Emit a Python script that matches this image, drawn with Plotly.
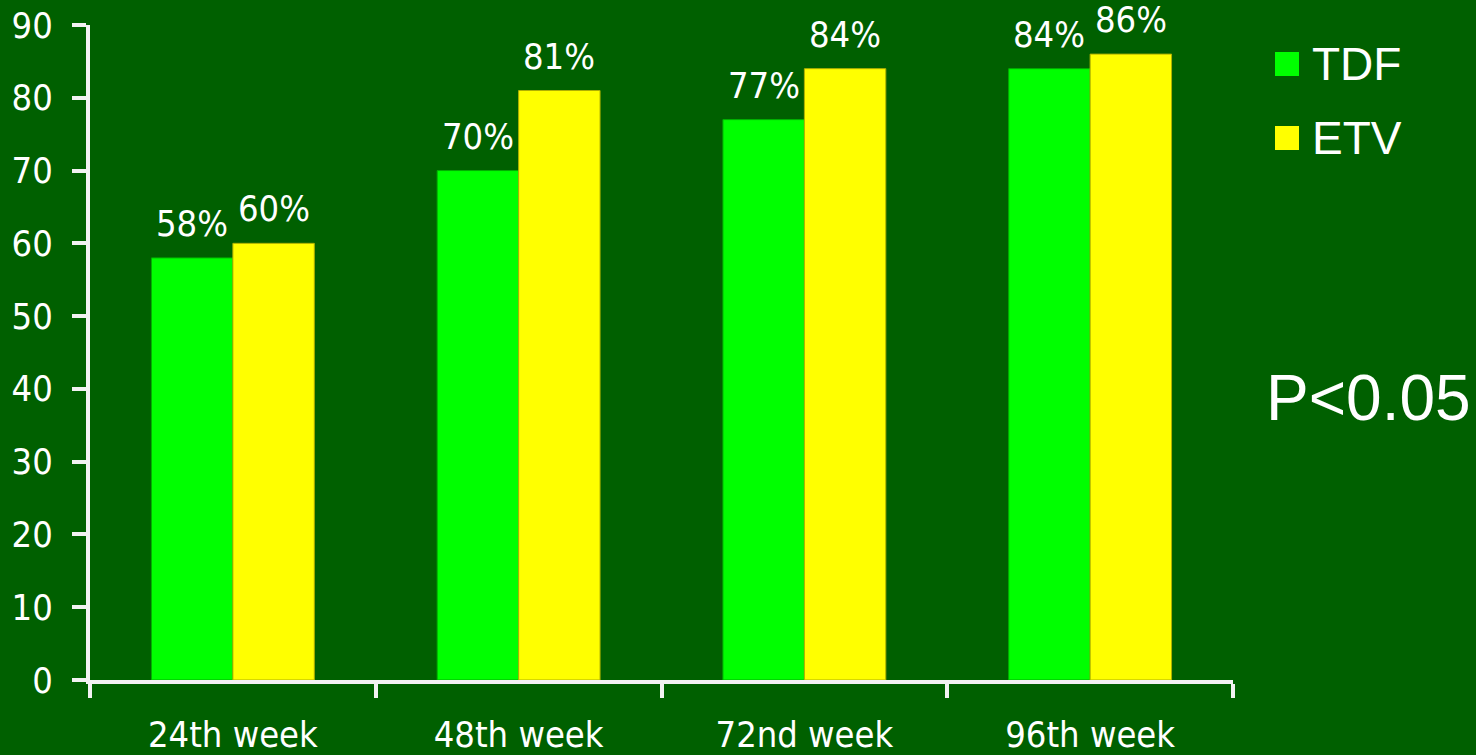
import plotly.graph_objects as go

weeks = ["24th week", "48th week", "72nd week", "96th week"]
tdf = [58, 70, 77, 84]
etv = [60, 81, 84, 86]
y_ticks = [0, 10, 20, 30, 40, 50, 60, 70, 80, 90]

BG = "#006000"
AXIS = "#f2f2f2"
GREEN = "#00ff00"
YELLOW = "#ffff00"
LABEL_FONT = dict(family="DejaVu Sans Condensed, DejaVu Sans", size=36, color="white")
ARIAL = "Liberation Sans, Arial"

# plot area in pixels
L, R, T, B = 90, 243, 25, 75
W, H = 1476, 755
PW, PH = W - L - R, H - T - B


def px(x):
    return (x - L) / PW


def py(y):
    return (H - B - y) / PH


fig = go.Figure()
fig.add_trace(go.Bar(x=weeks, y=tdf, name="TDF",
                     marker=dict(color=GREEN, line=dict(color="#00b000", width=1))))
fig.add_trace(go.Bar(x=weeks, y=etv, name="ETV",
                     marker=dict(color=YELLOW, line=dict(color="#b0b000", width=1))))

# value labels above each bar
half = 0.57 / 4  # offset of each bar centre from the category centre
for i, w in enumerate(weeks):
    for vals, off in ((tdf, -half), (etv, half)):
        fig.add_annotation(x=i + off, y=vals[i], xref="x", yref="y",
                           text=f"{vals[i]}%", showarrow=False,
                           yanchor="bottom", yshift=12, font=LABEL_FONT)

# legend entries
for k, (name, col) in enumerate((("TDF", GREEN), ("ETV", YELLOW))):
    yc = 64 + 74 * k
    fig.add_shape(type="rect", xref="paper", yref="paper",
                  x0=px(1275), x1=px(1299), y0=py(yc + 12), y1=py(yc - 12),
                  fillcolor=col, line=dict(width=0))
    fig.add_annotation(xref="paper", yref="paper", x=px(1310), y=py(yc),
                       xanchor="left", yanchor="middle", showarrow=False,
                       text=name, font=dict(family=ARIAL, size=46, color="white"))

fig.add_annotation(xref="paper", yref="paper", x=px(1264), y=py(398),
                   xanchor="left", yanchor="middle", showarrow=False,
                   text="P<0.05", font=dict(family=ARIAL, size=64, color="white"))

fig.update_layout(
    template="none",
    width=W, height=H,
    margin=dict(l=L, r=R, t=T, b=B),
    paper_bgcolor=BG, plot_bgcolor=BG,
    barmode="group", bargap=0.43, bargroupgap=0,
    showlegend=False,
    font=LABEL_FONT,
)
fig.update_xaxes(
    type="category", range=[-0.5, 3.5], automargin=False,
    showline=True, linecolor=AXIS, linewidth=4,
    ticks="outside", tickson="boundaries", ticklen=14, tickwidth=4, tickcolor=AXIS,
    showgrid=False, zeroline=False,
    tickfont=LABEL_FONT, ticklabelstandoff=20,
)
fig.update_yaxes(
    range=[0, 90], tickvals=y_ticks, automargin=False,
    showline=True, linecolor=AXIS, linewidth=4,
    ticks="outside", ticklen=14, tickwidth=4, tickcolor=AXIS,
    showgrid=False, zeroline=False,
    tickfont=LABEL_FONT, ticklabelstandoff=12,
)

fig.write_html("out.html")
